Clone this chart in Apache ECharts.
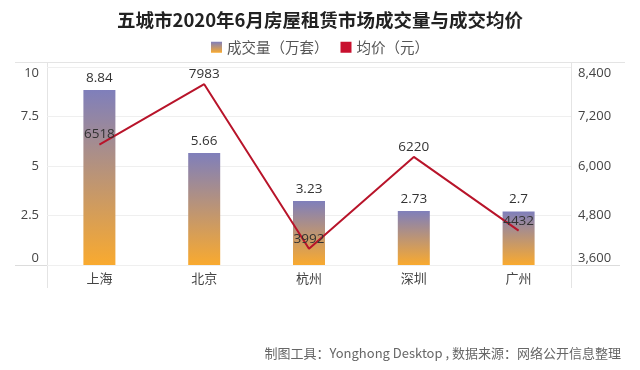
<!DOCTYPE html>
<html><head><meta charset="utf-8">
<script src="https://cdn.jsdelivr.net/npm/echarts@6/dist/echarts.min.js"></script>
<style>html,body{margin:0;padding:0;background:#fff}#c{width:640px;height:370px}</style>
</head><body><div id="c"></div>
<script>
var categories = ['上海', '北京', '杭州', '深圳', '广州'];
var volume = [8.84, 5.66, 3.23, 2.73, 2.7];
var price = [6518, 7983, 3992, 6220, 4432];
var leftTicks = [0, 2.5, 5, 7.5, 10];
var rightTicks = [3600, 4800, 6000, 7200, 8400];

var font = '"Noto Sans CJK SC", "Noto Sans", sans-serif';
var chart = echarts.init(document.getElementById('c'));
var GL = 47, GR = 571, GT = 67, GB = 265;
chart.setOption({
  animation: false,
  textStyle: { fontFamily: font },
  title: [{
    text: '五城市2020年6月房屋租赁市场成交量与成交均价',
    left: 'center', top: 6,
    textStyle: { fontSize: 18.5, fontWeight: 'bold', color: '#222', fontFamily: font }
  }, {
    text: '制图工具：Yonghong Desktop , 数据来源：网络公开信息整理',
    right: 14, top: 342,
    textStyle: { fontSize: 13, fontWeight: 'normal', color: '#666', fontFamily: font }
  }],
  legend: {
    top: 35, left: 'center',
    itemWidth: 11, itemHeight: 11, itemGap: 12,
    textStyle: { fontSize: 14.5, color: '#555', fontFamily: font },
    data: [{ name: '成交量（万套）', icon: 'rect' }, { name: '均价（元）', icon: 'rect' }]
  },
  grid: { left: GL, right: 640 - GR, top: GT, bottom: 370 - GB },
  xAxis: {
    type: 'category', data: categories,
    axisLine: { show: false }, axisTick: { show: false },
    axisLabel: { color: '#444', fontSize: 13, margin: 7, fontFamily: font }
  },
  yAxis: [{
    type: 'value', min: leftTicks[0], max: leftTicks[leftTicks.length - 1], interval: 2.5,
    axisLine: { show: false }, axisTick: { show: false },
    splitLine: { lineStyle: { color: '#efefef' } },
    axisLabel: { color: '#444', fontSize: 13, margin: 8, fontFamily: '"Open Sans", sans-serif',
      verticalAlignMinLabel: 'bottom', verticalAlignMaxLabel: 'top' }
  }, {
    type: 'value', min: rightTicks[0], max: rightTicks[rightTicks.length - 1], interval: 1200,
    axisLine: { show: false }, axisTick: { show: false },
    splitLine: { show: false },
    axisLabel: { color: '#444', fontSize: 13, margin: 7, fontFamily: '"Open Sans", sans-serif',
      verticalAlignMinLabel: 'bottom', verticalAlignMaxLabel: 'top',
      formatter: function (v) { return v.toLocaleString('en-US'); } }
  }],
  series: [{
    name: '成交量（万套）', type: 'bar', data: volume, barWidth: 32,
    itemStyle: { color: new echarts.graphic.LinearGradient(0, 0, 0, 1, [
      { offset: 0, color: '#7f7fbb' }, { offset: 1, color: '#f9aa2f' }]) },
    label: { show: true, position: 'top', distance: 5, color: '#333', fontSize: 13.5,
      fontFamily: '"Open Sans", sans-serif' }
  }, {
    name: '均价（元）', type: 'line', yAxisIndex: 1, data: price,
    showSymbol: true, symbol: 'circle', symbolSize: 0,
    lineStyle: { color: '#b8142a', width: 2 },
    itemStyle: { color: '#c8102e' },
    label: { show: true, position: 'top', distance: 3, color: '#333', fontSize: 13.5,
      fontFamily: '"Open Sans", sans-serif' }
  }],
  graphic: [
    { type: 'line', shape: { x1: 15, y1: 62.5, x2: 625, y2: 62.5 }, style: { stroke: '#e4e4e4', lineWidth: 1 }, silent: true },
    { type: 'line', shape: { x1: 15, y1: 265.5, x2: 620, y2: 265.5 }, style: { stroke: '#dcdcdc', lineWidth: 1 }, silent: true },
    { type: 'line', shape: { x1: GL + 0.5, y1: 62, x2: GL + 0.5, y2: 288 }, style: { stroke: '#e4e4e4', lineWidth: 1 }, silent: true },
    { type: 'line', shape: { x1: GR + 0.5, y1: 62, x2: GR + 0.5, y2: 288 }, style: { stroke: '#e4e4e4', lineWidth: 1 }, silent: true }
  ]
});
</script></body></html>
